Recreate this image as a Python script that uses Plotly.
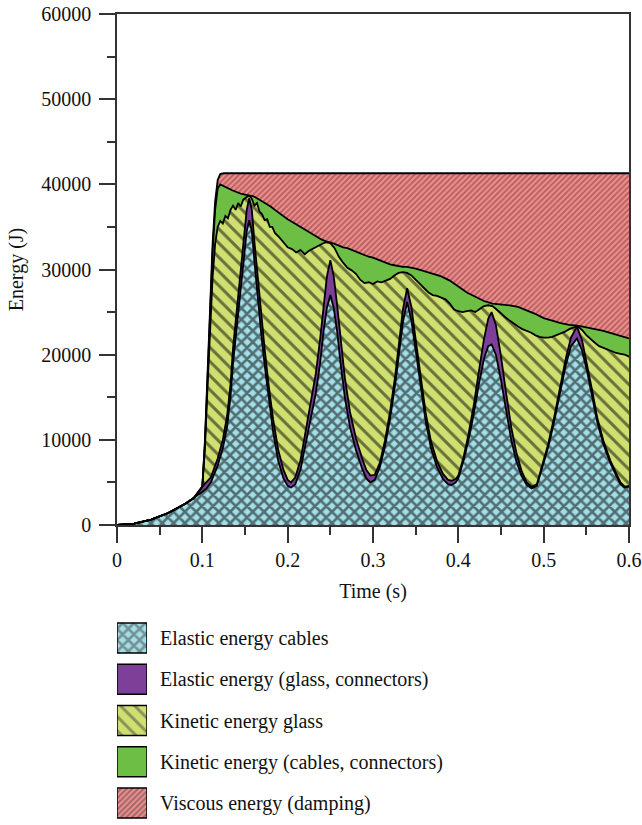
import plotly.graph_objects as go

# ---------------- data (stack boundaries, J) ----------------
t_el = [0, 0.02, 0.04, 0.06, 0.08, 0.09, 0.1, 0.105, 0.11, 0.118, 0.124, 0.129, 0.133, 0.136, 0.14,
        0.144, 0.148, 0.152, 0.155, 0.158, 0.161, 0.165, 0.169, 0.173, 0.178, 0.183, 0.189, 0.195,
        0.2, 0.204, 0.209, 0.215, 0.22, 0.226, 0.233, 0.238, 0.242, 0.246, 0.25, 0.254, 0.258,
        0.262, 0.267, 0.273, 0.28, 0.287, 0.292, 0.297, 0.302, 0.308, 0.314, 0.32, 0.326, 0.331,
        0.335, 0.34, 0.345, 0.35, 0.356, 0.362, 0.368, 0.375, 0.382, 0.388, 0.392, 0.397, 0.4,
        0.406, 0.412, 0.418, 0.424, 0.43, 0.435, 0.439, 0.444, 0.45, 0.456, 0.462, 0.468, 0.474,
        0.48, 0.486, 0.492, 0.498, 0.505, 0.512, 0.519, 0.526, 0.532, 0.539, 0.545, 0.551, 0.557,
        0.563, 0.57, 0.578, 0.585, 0.59, 0.595, 0.6]

# top of "Elastic energy cables"
cables_top = [0, 156, 624, 1404, 2496, 3159, 3900, 4300, 5000, 7000, 9000, 11500, 15000, 19000, 23000,
              27000, 31000, 34500, 35800, 34500, 31000, 26600, 22500, 18800, 14500, 10900, 7500, 5500,
              4600, 4400, 4800, 6500, 9000, 12000, 15500, 19000, 22700, 25500, 27000, 25500, 22700,
              19000, 15000, 11500, 8800, 6700, 5500, 5000, 5300, 6800, 9200, 12500, 16500, 20500,
              23800, 26200, 24000, 20500, 16000, 12000, 9000, 6800, 5400, 4800, 4700, 5000, 5500,
              7500, 10000, 13000, 16500, 19500, 21000, 21200, 20000, 17000, 13500, 10000, 7500, 5800,
              4700, 4300, 4600, 6500, 9000, 12000, 15500, 18800, 21000, 21900, 20500, 18000, 15000,
              12000, 9500, 7300, 5800, 4800, 4400, 4500]

# top of "Elastic energy (glass, connectors)"
glass_el_top = [0, 156, 624, 1404, 2496, 3159, 4500, 5000, 5600, 7800, 10000, 12800, 16500, 20800, 25000,
                29200, 33300, 37000, 38400, 37000, 33300, 28800, 24600, 20700, 16200, 12400, 8800, 6500,
                5300, 5000, 5600, 7600, 10400, 13800, 17800, 21800, 25800, 29200, 31100, 29200, 25800,
                21800, 17300, 13300, 10200, 7900, 6500, 5800, 5900, 7300, 9900, 13300, 17500, 21800,
                25300, 27800, 25600, 21800, 17200, 13000, 9800, 7500, 6000, 5300, 5200, 5400, 5800,
                7900, 10700, 14000, 18000, 21800, 24200, 25000, 23500, 19800, 15500, 11500, 8500, 6400,
                5000, 4500, 4800, 6800, 9400, 12500, 16100, 19600, 22000, 23300, 21700, 18900, 15700,
                12500, 9900, 7600, 6000, 5000, 4500, 4600]

t_kg = [0, 0.02, 0.04, 0.06, 0.08, 0.09, 0.1, 0.103, 0.106, 0.109, 0.112, 0.115, 0.118, 0.121, 0.124,
        0.127, 0.13, 0.133, 0.136, 0.139, 0.142, 0.145, 0.148, 0.152, 0.155, 0.158, 0.161, 0.164,
        0.167, 0.17, 0.173, 0.176, 0.179, 0.182, 0.185, 0.19, 0.195, 0.2, 0.205, 0.21, 0.215, 0.22,
        0.225, 0.23, 0.235, 0.24, 0.245, 0.25, 0.255, 0.26, 0.265, 0.27, 0.275, 0.28, 0.285, 0.29,
        0.295, 0.3, 0.305, 0.31, 0.315, 0.32, 0.325, 0.33, 0.335, 0.34, 0.345, 0.35, 0.355, 0.36,
        0.365, 0.37, 0.375, 0.38, 0.385, 0.39, 0.395, 0.4, 0.405, 0.41, 0.415, 0.42, 0.425, 0.43,
        0.435, 0.44, 0.445, 0.45, 0.455, 0.46, 0.465, 0.47, 0.475, 0.48, 0.485, 0.49, 0.495, 0.5,
        0.505, 0.51, 0.515, 0.52, 0.525, 0.53, 0.535, 0.54, 0.545, 0.55, 0.555, 0.56, 0.565, 0.57,
        0.575, 0.58, 0.585, 0.59, 0.595, 0.6]

# top of "Kinetic energy glass"
kin_glass_top = [0, 156, 624, 1404, 2496, 3159, 4500, 9000, 16000, 23000, 29000, 33000, 35000, 35700, 35400,
                 36300, 36000, 37000, 37500, 37000, 37800, 37400, 38200, 38500, 38700, 38300, 37500, 37800,
                 36800, 36500, 35800, 35900, 35000, 35000, 34300, 33800, 33200, 32600, 32400, 32000, 32300, 31800,
                 32200, 32500, 32800, 33000, 33200, 33100, 32500, 31500, 30800, 30200, 29900, 29500, 28800, 28400,
                 28500, 28300, 28600, 28500, 28700, 28900, 29300, 29600, 29700, 29600, 29300, 28800, 28300, 27800,
                 27300, 27000, 26900, 26700, 26500, 26000, 25300, 25100, 25000, 25100, 25200, 25000, 25400, 25700,
                 25800, 25700, 25300, 24800, 24400, 24000, 23600, 23300, 23000, 22800, 22600, 22300, 22100, 22000,
                 22000, 22100, 22300, 22500, 22700, 23000, 23200, 23300, 22900, 22300, 21800, 21400, 21000, 20800,
                 20600, 20400, 20200, 20100, 20000, 19800]

t_kc = [0, 0.02, 0.04, 0.06, 0.08, 0.09, 0.1, 0.103, 0.106, 0.109, 0.112, 0.115, 0.118, 0.121, 0.125,
        0.13, 0.135, 0.14, 0.145, 0.15, 0.155, 0.16, 0.165, 0.17, 0.175, 0.18, 0.185, 0.19, 0.195,
        0.2, 0.205, 0.21, 0.215, 0.22, 0.225, 0.23, 0.235, 0.24, 0.245, 0.25, 0.255, 0.26, 0.265,
        0.27, 0.275, 0.28, 0.285, 0.29, 0.295, 0.3, 0.305, 0.31, 0.315, 0.32, 0.325, 0.33, 0.335,
        0.34, 0.35, 0.36, 0.37, 0.38, 0.39, 0.4, 0.41, 0.42, 0.43, 0.44, 0.45, 0.46, 0.47, 0.48,
        0.49, 0.5, 0.51, 0.52, 0.53, 0.54, 0.55, 0.56, 0.57, 0.58, 0.59, 0.6]

# top of "Kinetic energy (cables, connectors)"
kin_cables_top = [0, 156, 624, 1404, 2496, 3159, 4500, 9500, 17000, 25000, 32000, 37000, 39500, 40000, 39800,
                  39500, 39300, 39100, 38900, 38800, 38700, 38600, 38300, 38000, 37700, 37400, 37000, 36600, 36200,
                  35900, 35600, 35300, 35000, 34700, 34300, 34000, 33800, 33500, 33300, 33200, 33000, 32800, 32600,
                  32500, 32300, 32100, 31900, 31700, 31500, 31400, 31200, 31000, 30800, 30600, 30500, 30400, 30300,
                  30300, 30100, 29800, 29500, 29200, 28700, 28000, 27300, 26800, 26300, 26000, 25900, 25800, 25600, 25200,
                  24800, 24300, 24000, 23700, 23500, 23400, 23200, 23000, 22800, 22500, 22200, 21900]

t_visc = [0, 0.02, 0.04, 0.06, 0.08, 0.09, 0.1, 0.103, 0.106, 0.109, 0.112, 0.115, 0.118, 0.121, 0.125, 0.6]
# top of "Viscous energy (damping)" = total energy
visc_top = [0, 156, 624, 1404, 2496, 3159, 4500, 9800, 17500, 26000, 33000, 38000, 40500, 41200, 41300, 41300]

series_names = ["Elastic energy cables", "Elastic energy (glass, connectors)", "Kinetic energy glass",
                "Kinetic energy (cables, connectors)", "Viscous energy (damping)"]

x_ticks = [0, 0.1, 0.2, 0.3, 0.4, 0.5, 0.6]
x_tick_labels = ["0", "0.1", "0.2", "0.3", "0.4", "0.5", "0.6"]
y_ticks = [0, 10000, 20000, 30000, 40000, 50000, 60000]
y_tick_labels = ["0", "10000", "20000", "30000", "40000", "50000", "60000"]

# ---------------- styles ----------------
FONT = "Liberation Serif"
styles = [
    dict(bg="#a3dde6", fg="#000000", shape="x", size=8, sol=0.55),
    dict(bg="#7d3f98", fg="#7d3f98", shape="", size=8, sol=0.2),
    dict(bg="#cfe070", fg="#000000", shape="\\", size=10, sol=0.3),
    dict(bg="#6cbe45", fg="#6cbe45", shape="", size=8, sol=0.2),
    dict(bg="#f28e8e", fg="#7a3636", shape="/", size=4, sol=0.5),
]
xs = [t_el, t_el, t_kg, t_kc, t_visc]
ys = [cables_top, glass_el_top, kin_glass_top, kin_cables_top, visc_top]

fig = go.Figure()
for i, (x, y, s, name) in enumerate(zip(xs, ys, styles, series_names)):
    kw = dict(fillcolor=s["bg"])
    if s["shape"]:
        kw["fillpattern"] = dict(shape=s["shape"], bgcolor=s["bg"], fgcolor=s["fg"],
                                 size=s["size"], solidity=s["sol"])
    fig.add_trace(go.Scatter(
        x=x, y=y, mode="lines", name=name, showlegend=False,
        line=dict(color="#000000", width=1.8),
        fill="tozeroy" if i == 0 else "tonexty",
        hoverinfo="skip", **kw))

# legend built as a small bar panel with patterned swatches
fig.add_trace(go.Bar(
    x=[1] * len(series_names), y=series_names, orientation="h", width=0.73,
    xaxis="x2", yaxis="y2", showlegend=False, hoverinfo="skip",
    marker=dict(color=[s["bg"] for s in styles],
                line=dict(color="#000000", width=1.5),
                pattern=dict(shape=[s["shape"] for s in styles],
                             bgcolor=[s["bg"] for s in styles],
                             fgcolor=[s["fg"] for s in styles],
                             size=[s["size"] for s in styles],
                             solidity=[s["sol"] for s in styles]))))

axis_common = dict(showline=True, linecolor="#333333", linewidth=1.5, mirror=True,
                   ticks="outside", ticklen=16, tickwidth=1.5, tickcolor="#333333",
                   showgrid=False, zeroline=False, automargin=False,
                   tickfont=dict(family=FONT, size=20, color="#111111"))

fig.update_layout(
    width=642, height=825,
    margin=dict(l=117, r=13, t=14, b=0, autoexpand=False),
    paper_bgcolor="white", plot_bgcolor="white",
    font=dict(family=FONT, size=20, color="#111111"),
    xaxis=dict(domain=[0, 1], range=[0, 0.6], tickvals=x_ticks, ticktext=x_tick_labels,
               minor=dict(ticks="outside", ticklen=8, dtick=0.05, tickwidth=1.5, tickcolor="#333333"),
               title=dict(text="Time (s)", font=dict(family=FONT, size=20), standoff=14),
               anchor="y", **axis_common),
    yaxis=dict(domain=[0.3699, 1], range=[0, 60000], tickvals=y_ticks, ticktext=y_tick_labels,
               minor=dict(ticks="outside", ticklen=8, dtick=5000, tickwidth=1.5, tickcolor="#333333"),
               title=dict(text="Energy (J)", font=dict(family=FONT, size=20), standoff=12),
               ticklabelstandoff=4,
               anchor="x", **axis_common),
    xaxis2=dict(domain=[0, 0.0586], range=[0, 1], visible=False, anchor="y2", fixedrange=True,
                automargin=False),
    yaxis2=dict(domain=[0.0017, 0.256], anchor="x2", side="right", autorange="reversed",
                type="category", showline=False, showgrid=False, zeroline=False,
                ticks="", ticklabelstandoff=12, automargin=False,
                tickfont=dict(family=FONT, size=20, color="#111111")),
    barmode="overlay",
)

fig.write_html("out.html")
